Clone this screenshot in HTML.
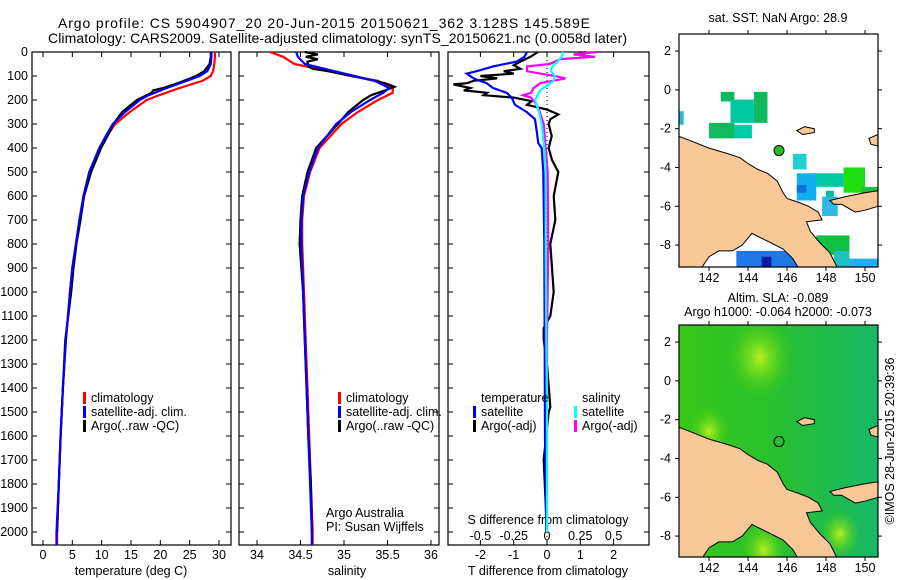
<!DOCTYPE html>
<html><head><meta charset="utf-8"><style>
html,body{margin:0;padding:0;background:#fff;}
svg{display:block;font-family:"Liberation Sans",sans-serif;}
</style></head><body>
<svg id="c" width="900" height="580" viewBox="0 0 900 580" xmlns="http://www.w3.org/2000/svg">
<text x="58" y="28" font-size="14" textLength="532">Argo profile: CS 5904907_20 20-Jun-2015 20150621_362 3.128S 145.589E</text>
<text x="48" y="43" font-size="14" textLength="579">Climatology: CARS2009. Satellite-adjusted climatology: synTS_20150621.nc (0.0058d later)</text>
<g id="g"></g>
</svg>
<script>
// ---- data ----
const tDepthClim=[0,20,50,80,100,120,150,180,200,250,300,350,400,500,600,700,800,900,1000,1200,1400,1600,1800,2000,2054];
const tempClim=[29.3,29.3,29.2,29.0,28.6,27.2,23.3,19.8,17.7,14.8,12.3,10.9,9.7,7.9,6.9,6.2,5.6,5.0,4.6,3.9,3.4,3.0,2.7,2.4,2.4];
const tempSat=[28.7,28.7,28.6,28.0,26.7,24.5,21.1,18.0,16.5,14.0,11.9,10.7,9.6,7.9,6.9,6.2,5.6,5.0,4.6,3.9,3.4,3.0,2.7,2.3,2.3];
const tArgoDepth=[0,20,50,80,100,130,150,160,170,200,250,300,350,400,500,600,700,800,900,1000,1200,1400,1600,1800,2000];
const tempArgo=[28.6,28.6,28.4,27.5,26.1,23.0,20.5,18.8,18.5,16.0,13.5,12.0,11.0,9.9,8.2,7.0,6.4,5.7,5.2,4.8,3.8,3.4,3.0,2.7,2.4];
const sDepth=[0,20,50,80,100,120,150,170,200,250,300,400,500,600,700,800,900,1000,1200,1400,1600,1800,2000,2054];
const salClim=[34.15,34.30,34.43,34.82,35.08,35.39,35.56,35.56,35.39,35.16,34.97,34.72,34.61,34.54,34.52,34.52,34.53,34.54,34.56,34.58,34.60,34.62,34.64,34.64];
const salSat=[34.45,34.47,34.55,34.89,35.12,35.35,35.52,35.45,35.30,35.08,34.91,34.70,34.60,34.53,34.51,34.51,34.52,34.53,34.55,34.57,34.59,34.61,34.63,34.63];
const sArgoDepth=[0,10,20,30,40,60,70,80,100,130,145,160,180,200,250,300,400,500,600,700,800,1000,1200,1400,1600,1800,2000];
const salArgo=[34.55,34.70,34.56,34.70,34.58,34.59,34.64,34.82,35.10,35.47,35.58,35.47,35.31,35.22,35.05,34.93,34.68,34.58,34.52,34.50,34.49,34.53,34.55,34.57,34.59,34.62,34.63];
const dDepthSat=[0,20,40,60,80,90,110,130,150,170,190,220,250,280,330,380,400,500,800,1200,1600,2000];
const dTempSat=[-0.6,-0.68,-0.91,-1.62,-2.11,-2.41,-2.2,-1.81,-1.62,-1.21,-1.06,-0.96,-0.61,-0.36,-0.31,-0.26,-0.16,-0.11,-0.08,-0.07,-0.06,-0.02];
const dDepthArgo=[0,20,40,55,70,80,90,100,110,120,130,135,150,160,170,180,190,205,220,240,260,280,300,350,400,450,500,600,700,800,900,1000,1100,1150,1200,1300,1480,1500,1700,2000];
const dTempArgo=[-0.27,-0.5,-0.8,-1.0,-0.8,-1.3,-1.0,-2.0,-1.5,-2.2,-2.4,-2.81,-2.3,-2.5,-1.8,-1.9,-1.0,-0.46,-0.6,0.0,0.34,0.1,0.05,0.14,0.05,0.15,0.34,0.2,0.25,0.1,0.15,0.2,0.1,-0.1,-0.1,0.0,0.1,0.05,-0.1,0.0];
const dSDepthArgo=[0,10,20,30,50,60,80,90,100,110,130,150,170,180,190,210,240,300,400,500,800,1200,1600,2000];
const dSalArgo=[0.38,0.2,0.36,0.1,0.02,-0.15,-0.15,-0.05,0.06,0.14,-0.05,-0.1,-0.12,-0.18,-0.12,-0.09,-0.06,-0.025,-0.01,0.005,0.01,0.0,0.0,0.0];
const dSDepthSat=[0,20,40,60,80,100,120,140,160,180,200,250,300,400,500,800,1200,1500,2000];
const dSalSat=[0.12,0.11,0.08,0.04,0.03,0.06,0.05,0.0,-0.05,-0.07,-0.09,-0.06,-0.04,-0.02,-0.01,-0.01,-0.005,0.0,0.0];
const depthTicks=[0,100,200,300,400,500,600,700,800,900,1000,1100,1200,1300,1400,1500,1600,1700,1800,1900,2000];
const tempTicks=[0,5,10,15,20,25,30];
const salTicks=[34,34.5,35,35.5,36];
const salTickLabels=["34","34.5","35","35.5","36"];
const dTTicks=[-2,-1,0,1,2];
const dSTicks=[-0.5,-0.25,0,0.25,0.5];
const dSTickLabels=["-0.5","-0.25","0","0.25","0.5"];
const latTicks=[2,0,-2,-4,-6,-8];
const lonTicks=[142,144,146,148,150];
const argoLon=145.589, argoLat=-3.128;

// ---- helpers ----
const NS='http://www.w3.org/2000/svg';
const G=document.getElementById('g');
function el(tag,attrs,parent){const e=document.createElementNS(NS,tag);for(const k in attrs)e.setAttribute(k,attrs[k]);(parent||G).appendChild(e);return e;}
function txt(x,y,s,anchor,size,parent){const t=el('text',{x:x,y:y,'font-size':size||12.5,'text-anchor':anchor||'start'},parent);t.textContent=s;return t;}
const top0=52,bot=545;
const yD=d=>top0+d*0.24;
function xT(v){return 43+v*5.867;}
function xS(v){return 257+(v-34)*87;}
function xdT(v){return 547+v*33.3;}
function xdS(v){return 547+v*133.2;}
function stepLine(xs,ds,xf,color,name,w){
  let p='';for(let i=0;i<xs.length;i++){const X=xf(xs[i]).toFixed(1),Y=yD(ds[i]).toFixed(1);p+=(i?'L':'M')+X+' '+Y;}
  const e=el('path',{d:p,fill:'none',stroke:color,'stroke-width':w||2.2,'stroke-linejoin':'miter'});
  
  
}
function frame(x0,x1,name){
  const r=el('rect',{x:x0,y:top0,width:x1-x0,height:bot-top0,fill:'none',stroke:'#000','stroke-width':1.2});
  
  
}
function legendItem(x,y,color,label,name){
  el('rect',{x:x,y:y-10,width:3,height:12,fill:color});
  const t=txt(x+8,y,label);
  
  
}

// ---- panel 1 temperature ----
frame(32,231,'temperature-panel');
depthTicks.forEach(d=>{
  el('line',{x1:32,y1:yD(d),x2:37,y2:yD(d),stroke:'#000'});
  el('line',{x1:226,y1:yD(d),x2:231,y2:yD(d),stroke:'#000'});
  const t=txt(28,yD(d)+4,String(d),'end');
  
  
});
tempTicks.forEach(v=>{
  el('line',{x1:xT(v),y1:bot,x2:xT(v),y2:bot-5,stroke:'#000'});
  el('line',{x1:xT(v),y1:top0,x2:xT(v),y2:top0+5,stroke:'#000'});
  const t=txt(xT(v),559,String(v),'middle');
  
  
});
let at=txt(131,575,'temperature (deg C)','middle');


stepLine(tempClim,tDepthClim,xT,'#ff0000','temperature-climatology-line');
stepLine(tempArgo,tArgoDepth,xT,'#000','temperature-argo-line');
stepLine(tempSat,tDepthClim,xT,'#0000ff','temperature-satellite-line');
legendItem(83,402,'#ff0000','climatology','legend-climatology');
legendItem(83,416,'#0000ff','satellite-adj. clim.','legend-satellite-adj');
legendItem(83,430,'#000','Argo(..raw -QC)','legend-argo');

// ---- panel 2 salinity ----
frame(239,439,'salinity-panel');
depthTicks.forEach(d=>{
  el('line',{x1:239,y1:yD(d),x2:244,y2:yD(d),stroke:'#000'});
  el('line',{x1:434,y1:yD(d),x2:439,y2:yD(d),stroke:'#000'});
});
salTicks.forEach((v,i)=>{
  el('line',{x1:xS(v),y1:bot,x2:xS(v),y2:bot-5,stroke:'#000'});
  el('line',{x1:xS(v),y1:top0,x2:xS(v),y2:top0+5,stroke:'#000'});
  const t=txt(xS(v),559,salTickLabels[i],'middle');
  
  
});
at=txt(347,575,'salinity','middle');


stepLine(salClim,sDepth,xS,'#ff0000','salinity-climatology-line');
stepLine(salArgo,sArgoDepth,xS,'#000','salinity-argo-line');
stepLine(salSat,sDepth,xS,'#0000ff','salinity-satellite-line');
legendItem(338,402,'#ff0000','climatology','legend-sal-climatology');
legendItem(338,416,'#0000ff','satellite-adj. clim.','legend-sal-satellite-adj');
legendItem(338,430,'#000','Argo(..raw -QC)','legend-sal-argo');
at=txt(326,517,'Argo Australia');


at=txt(326,531,'PI: Susan Wijffels');



// ---- panel 3 differences ----
frame(448,649,'difference-panel');
depthTicks.forEach(d=>{
  el('line',{x1:448,y1:yD(d),x2:453,y2:yD(d),stroke:'#000'});
  el('line',{x1:644,y1:yD(d),x2:649,y2:yD(d),stroke:'#000'});
});
dTTicks.forEach(v=>{
  el('line',{x1:xdT(v),y1:bot,x2:xdT(v),y2:bot-5,stroke:'#000'});
  el('line',{x1:xdT(v),y1:top0,x2:xdT(v),y2:top0+5,stroke:'#000'});
  const t=txt(xdT(v),559,String(v),'middle');
  
  
});
dSTicks.forEach((v,i)=>{
  const t=txt(xdS(v),540,dSTickLabels[i],'middle');
  
  
});
at=txt(548,524,'S difference from climatology','middle');


at=txt(548,575,'T difference from climatology','middle');


el('line',{x1:xdT(0),y1:top0,x2:xdT(0),y2:bot,stroke:'#000','stroke-dasharray':'1 3'});
stepLine(dTempArgo,dDepthArgo,xdT,'#000','t-diff-argo-line');
stepLine(dSalArgo,dSDepthArgo,xdS,'#ff00ff','s-diff-argo-line');
stepLine(dTempSat,dDepthSat,xdT,'#0000ff','t-diff-satellite-line');
stepLine(dSalSat,dSDepthSat,xdS,'#00ffff','s-diff-satellite-line');
at=txt(481,402,'temperature');


at=txt(582,402,'salinity');


legendItem(473,416,'#0000ff','satellite','legend-t-satellite');
legendItem(473,430,'#000','Argo(-adj)','legend-t-argo');
legendItem(574,416,'#00ffff','satellite','legend-s-satellite');
legendItem(574,430,'#ff00ff','Argo(-adj)','legend-s-argo');

// ---- maps ----
const mx0=679,mx1=878;
const lonX=l=>mx0+(l-140.46)*19.5;
const coast=[[140.46,-2.4],[141,-2.6],[142,-3.0],[143,-3.3],[143.6,-3.5],[144,-3.8],[144.5,-4.1],[145,-4.3],[145.5,-4.7],[145.8,-5.3],[146,-5.6],[146.6,-5.8],[147.1,-6.0],[147.6,-6.3],[147.8,-6.7],[147.0,-6.8],[147.2,-7.3],[147.7,-7.9],[148.2,-8.4],[148.6,-9.2],[146.6,-9.2],[146.3,-8.7],[145.8,-8.2],[145.2,-7.9],[144.6,-7.6],[144.2,-7.4],[143.7,-8.0],[143.2,-8.3],[142.5,-8.3],[142.0,-8.6],[141.6,-9.2],[140.46,-9.2]];
const newBritain=[[148.2,-5.7],[149,-5.5],[150,-5.3],[150.66,-5.2],[150.66,-6.0],[150,-6.2],[149.5,-6.3],[148.8,-5.9],[148.4,-5.9]];
const manus=[[146.5,-2.1],[146.9,-1.9],[147.4,-2.0],[147.4,-2.2],[146.8,-2.3]];
const newIreland=[[150.2,-2.5],[150.66,-2.3],[150.66,-2.9],[150.3,-2.8]];
const sstCells=[[142.6,143.3,-0.1,-0.6,'#10b860'],[144.3,145.0,-0.1,-1.7,'#10b860'],[143.1,144.3,-0.5,-1.7,'#00c8a0'],[142.0,143.3,-1.7,-2.5,'#10b860'],[143.3,144.2,-1.8,-2.5,'#00ccaa'],[140.46,140.7,-1.1,-1.8,'#20c0d0'],[146.3,147.0,-3.3,-4.1,'#20d0d0'],[147.2,148.9,-4.3,-5.0,'#00c8a0'],[146.5,147.5,-4.3,-5.7,'#10b0f0'],[146.5,147.0,-4.9,-5.3,'#1070e0'],[148.9,150.0,-4.0,-5.3,'#20dd10'],[149.8,150.66,-5.0,-5.8,'#20c040'],[148.0,148.4,-5.2,-5.8,'#00c0a0'],[147.8,148.6,-5.5,-6.5,'#30b8e0'],[147.5,149.2,-7.5,-8.5,'#10c040'],[148.4,149.2,-8.3,-9.2,'#20c0c0'],[143.4,146.5,-8.3,-9.2,'#1e78e6'],[144.7,145.2,-8.6,-9.2,'#0a1ea0'],[140.46,140.7,-8.8,-9.2,'#1e78e6'],[149.2,150.66,-8.7,-9.2,'#20b0f0']];
function drawMap(ty,by,name,sla){
  const latY=l=>ty+(2.88-l)*19.4;
  const g=el('g',{});
  
  
  const cid='clip'+name;
  const cp=el('clipPath',{id:cid},g);el('rect',{x:mx0,y:ty,width:mx1-mx0,height:by-ty},cp);
  const inner=el('g',{'clip-path':'url(#'+cid+')'},g);
  if(sla){
    const defs=el('defs',{},g);
    [['y1',144.6,1.2,2.2],['y2',142.0,-2.6,1.3],['y3',148.7,-7.9,1.3],['y4',144.8,-8.7,1.5]].forEach(b=>{
      const rg=el('radialGradient',{id:name+b[0]},defs);
      el('stop',{offset:'0','stop-color':'#b8f020'},rg);
      el('stop',{offset:'1','stop-color':'#40cc10','stop-opacity':'0'},rg);
    });
    const lg=el('linearGradient',{id:name+'bg',x1:'0',y1:'0',x2:'1',y2:'0'},defs);
    el('stop',{offset:'0','stop-color':'#38c818'},lg);
    el('stop',{offset:'0.5','stop-color':'#28c030'},lg);
    el('stop',{offset:'1','stop-color':'#18b868'},lg);
    el('rect',{x:mx0,y:ty,width:mx1-mx0,height:by-ty,fill:'url(#'+name+'bg)'},inner);
    [['y1',144.6,1.2,2.2],['y2',142.0,-2.6,1.3],['y3',148.7,-7.9,1.3],['y4',144.8,-8.7,1.5]].forEach(b=>{
      el('ellipse',{cx:lonX(b[1]),cy:latY(b[2]),rx:b[3]*19.5*0.8,ry:b[3]*19.4,fill:'url(#'+name+b[0]+')'},inner);
    });
  } else {
    sstCells.forEach(c=>{
      const r=el('rect',{x:lonX(c[0]),y:latY(c[2]),width:lonX(c[1])-lonX(c[0]),height:latY(c[3])-latY(c[2]),fill:c[4]},inner);
      
      
    });
  }
  [coast,newBritain,manus,newIreland].forEach(poly=>{
    el('polygon',{points:poly.map(p=>lonX(p[0]).toFixed(1)+','+latY(p[1]).toFixed(1)).join(' '),fill:'#fac896',stroke:'#000','stroke-width':1},inner);
  });
  el('rect',{x:mx0,y:ty,width:mx1-mx0,height:by-ty,fill:'none',stroke:'#000','stroke-width':1.2},g);
  latTicks.forEach(l=>{
    el('line',{x1:mx0-4,y1:latY(l),x2:mx0,y2:latY(l),stroke:'#000'},g);
    el('line',{x1:mx1,y1:latY(l),x2:mx1+4,y2:latY(l),stroke:'#000'},g);
    const t=txt(mx0-8,latY(l)+4,String(l),'end',12.5,g);
    
    
  });
  lonTicks.forEach(l=>{
    el('line',{x1:lonX(l),y1:by,x2:lonX(l),y2:by+4,stroke:'#000'},g);
    el('line',{x1:lonX(l),y1:ty-4,x2:lonX(l),y2:ty,stroke:'#000'},g);
    const t=txt(lonX(l),by+15,String(l),'middle',12.5,g);
    
    
  });
  const c=el('circle',{cx:lonX(argoLon),cy:latY(argoLat),r:5,fill:sla?'none':'#20c020',stroke:'#000','stroke-width':1},g);
  
  
}
drawMap(34,267,'sst-map',false);
drawMap(325,557,'sla-map',true);
at=txt(778,22,'sat. SST: NaN Argo: 28.9','middle');


at=txt(778,302,'Altim. SLA: -0.089','middle');


at=txt(778,316,'Argo h1000: -0.064 h2000: -0.073','middle');


at=txt(0,0,'©IMOS 28-Jun-2015 20:39:36','middle');
at.setAttribute('transform','translate(894,441) rotate(-90)');


</script>
</body></html>
